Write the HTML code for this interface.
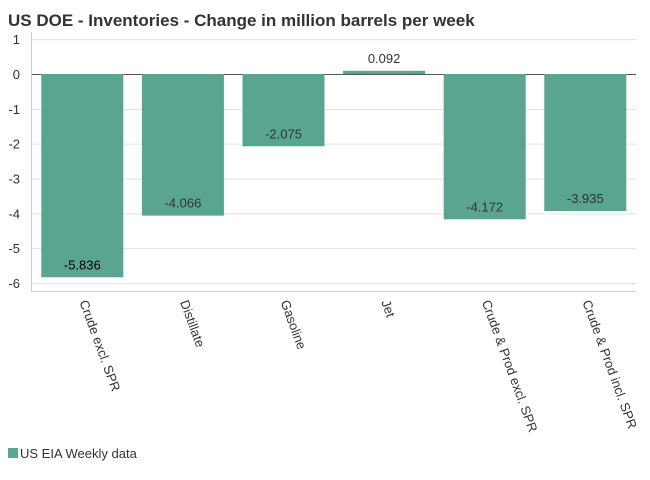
<!DOCTYPE html>
<html><head><meta charset="utf-8"><style>
body{margin:0;background:#fff;font-family:"Liberation Sans",Arial,sans-serif}
</style></head><body>
<svg width="650" height="475" xmlns="http://www.w3.org/2000/svg" font-family="Liberation Sans, Arial, sans-serif">
<text x="8" y="26" font-size="17" font-weight="bold" fill="#333">US DOE - Inventories - Change in million barrels per week</text>
<g id="grid"></g><g id="bars"></g><g id="labels"></g>
<line x1="31.5" y1="32" x2="31.5" y2="291.5" stroke="#ccc"/>
<line x1="31" y1="291.5" x2="636" y2="291.5" stroke="#ccc"/>
<rect x="8" y="448" width="10" height="10" fill="#59a590"/>
<text x="20" y="458" font-size="13" fill="#333">US EIA Weekly data</text>
</svg>
<script>
const categories=["Crude excl. SPR","Distillate","Gasoline","Jet","Crude & Prod excl. SPR","Crude & Prod incl. SPR"];
const values=[-5.836,-4.066,-2.075,0.092,-4.172,-3.935];
const valueLabels=["-5.836","-4.066","-2.075","0.092","-4.172","-3.935"];
const yTicks=[1,0,-1,-2,-3,-4,-5,-6];
const NS="http://www.w3.org/2000/svg";
const y=v=>74-v*34.83;
const x0=32,bw=100.6;
function mk(t,a,p){const e=document.createElementNS(NS,t);for(const k in a)e.setAttribute(k,a[k]);p.appendChild(e);return e;}
const grid=document.getElementById('grid'),bars=document.getElementById('bars'),labs=document.getElementById('labels');
yTicks.forEach(t=>{
const l=mk('line',{x1:31,x2:636,y1:y(t)+0.5,y2:y(t)+0.5,stroke:t===0?'#555':'#e0e0e0'},grid);


const tx=mk('text',{x:20,y:y(t)+5,'text-anchor':'end','font-size':13,fill:'#333'},grid);
tx.textContent=t;


});
categories.forEach((c,i)=>{
const cx=x0+bw*(i+0.5);
const top=Math.min(y(0),y(values[i])),h=Math.abs(y(values[i])-y(0));
const r=mk('rect',{x:cx-41,y:top,width:82,height:h,fill:'#59a590'},bars);


let ly=values[i]<0?Math.min(y(values[i])-13,277):y(values[i])-13;
const t=mk('text',{x:cx,y:ly+5,'text-anchor':'middle','font-size':13,fill:i===0?'#000':'#333'},labs);
t.textContent=valueLabels[i];


const xl=mk('text',{x:cx-3,y:302,'font-size':13,fill:'#333',transform:`rotate(70 ${cx-3} 302)`},labs);
xl.textContent=c;


});
</script>
</body></html>
